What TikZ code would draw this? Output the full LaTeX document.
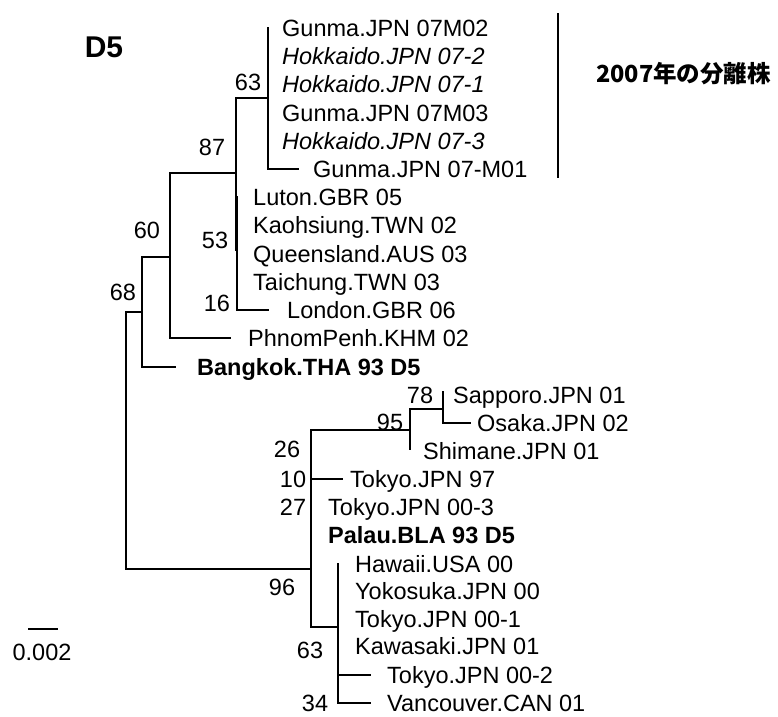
\documentclass[tikz,border=0pt]{standalone}
\usepackage{fontspec}
\setmainfont{Liberation Sans}
\newfontfamily\jpfont{Noto Sans CJK JP}
\begin{document}
\begin{tikzpicture}[x=1pt,y=-1pt,
  lbl/.style={inner sep=0pt, text height=16.8pt, text depth=0pt, font=\fontsize{23.5}{28}\selectfont},
  leaf/.style={lbl, anchor=west},
  bs/.style={lbl, anchor=center},
  branch/.style={line width=1.4pt, line cap=rect},
  zero/.style={line width=2.6pt}]
\useasboundingbox (0,0) rectangle (778,716);

% internal nodes
\coordinate (root) at (126,440);
\coordinate (n68) at (142,312);
\coordinate (n60) at (170,257);
\coordinate (n87) at (236,173);
\coordinate (n63a) at (268,98);
\coordinate (n53) at (237,250);
\coordinate (n96) at (311,569);
\coordinate (n95) at (410,430);
\coordinate (n78) at (443,409);
\coordinate (n63b) at (338,627);
\coordinate (n34) at (338,689);

% branch tips
\coordinate (tA1) at (268,28);
\coordinate (tA6) at (298,169);
\coordinate (tB1) at (237,197);
\coordinate (tB4) at (237,282);
\coordinate (tB5) at (268,310);
\coordinate (tC) at (230,338);
\coordinate (tD) at (175,367);
\coordinate (tE1) at (443,392);
\coordinate (tE2) at (470,423);
\coordinate (tE3) at (410,449);
\coordinate (tF1) at (342,479);
\coordinate (tF3) at (311,536);
\coordinate (tG1) at (338,564);
\coordinate (tG2) at (338,591);
\coordinate (tG4) at (338,646);
\coordinate (tG5) at (370,675);
\coordinate (tG6) at (370,703);
\coordinate (z1) at (311,479);
\coordinate (z2) at (311,544);

% leaf labels
\node[leaf] (A1) at (282,28) {Gunma.JPN 07M02};
\node[leaf] (A2) at (282,56) {\itshape Hokkaido.JPN 07-2};
\node[leaf] (A3) at (282,84) {\itshape Hokkaido.JPN 07-1};
\node[leaf] (A4) at (282,113) {Gunma.JPN 07M03};
\node[leaf] (A5) at (282,141) {\itshape Hokkaido.JPN 07-3};
\node[leaf] (A6) at (313,169) {Gunma.JPN 07-M01};
\node[leaf] (B1) at (253,197) {Luton.GBR 05};
\node[leaf] (B2) at (253,225) {Kaohsiung.TWN 02};
\node[leaf] (B3) at (253,254) {Queensland.AUS 03};
\node[leaf] (B4) at (253,282) {Taichung.TWN 03};
\node[leaf] (B5) at (287,310) {London.GBR 06};
\node[leaf] (C) at (248,338) {PhnomPenh.KHM 02};
\node[leaf] (D) at (197,367) {\bfseries Bangkok.THA 93 D5};
\node[leaf] (E1) at (453,395) {Sapporo.JPN 01};
\node[leaf] (E2) at (477,423) {Osaka.JPN 02};
\node[leaf] (E3) at (423,451) {Shimane.JPN 01};
\node[leaf] (F1) at (350,479) {Tokyo.JPN 97};
\node[leaf] (F2) at (328,507) {Tokyo.JPN 00-3};
\node[leaf] (F3) at (328,535) {\bfseries Palau.BLA 93 D5};
\node[leaf] (G1) at (355,564) {Hawaii.USA 00};
\node[leaf] (G2) at (355,591) {Yokosuka.JPN 00};
\node[leaf] (G3) at (355,619) {Tokyo.JPN 00-1};
\node[leaf] (G4) at (355,646) {Kawasaki.JPN 01};
\node[leaf] (G5) at (387,675) {Tokyo.JPN 00-2};
\node[leaf] (G6) at (387,703) {Vancouver.CAN 01};

% bootstrap values
\node[bs] (b63a) at (248,82) {63};
\node[bs] (b87) at (212,147) {87};
\node[bs] (b60) at (147,230) {60};
\node[bs] (b53) at (215,240) {53};
\node[bs] (b16) at (217,303) {16};
\node[bs] (b68) at (123,292) {68};
\node[bs] (b78) at (420,395) {78};
\node[bs] (b95) at (390,422) {95};
\node[bs] (b26) at (287,449) {26};
\node[bs] (b10) at (293,479) {10};
\node[bs] (b27) at (293,507) {27};
\node[bs] (b96) at (282,587) {96};
\node[bs] (b63b) at (310,650) {63};
\node[bs] (b34) at (315,703) {34};

% branches
\begin{scope}[branch]
\draw (root) |- (n68);
\draw (root) |- (n96);
\draw (n68) |- (n60);
\draw (n68) |- (tD);
\draw (n60) |- (n87);
\draw (n60) |- (tC);
\draw (n87) |- (n63a);
\draw (n87) |- (n53);
\draw (n63a) |- (tA1);
\draw (n63a) |- (tA6);
\draw (n53) |- (tB1);
\draw (n53) |- (tB5);
\draw (n96) |- (n95);
\draw (n96) |- (tF1);
\draw (n96) |- (tF3);
\draw (n96) |- (n63b);
\draw (n95) |- (n78);
\draw (n95) |- (tE3);
\draw (n78) |- (tE1);
\draw (n78) |- (tE2);
\draw (n63b) |- (tG1);
\draw (n63b) |- (n34);
\draw (n34) |- (tG5);
\draw (n34) |- (tG6);
\end{scope}
% overlapping zero-length branches look heavier
\draw[zero] (tB1) -- (tB4);
\draw[zero] (z1) -- (z2);
\draw[zero] (tG2) -- (tG4);

% bracket for 2007 isolates
\coordinate (k1) at (558,13);
\coordinate (k2) at (558,178);
\draw[line width=1.3pt] (k1) -- (k2);
\node[anchor=west, inner sep=0pt, font=\jpfont\bfseries\fontsize{23.5}{26}\selectfont] (jp) at (596,74) {2007年の分離株};

% title
\node[inner sep=0pt, font=\bfseries\fontsize{30}{34}\selectfont] (title) at (104,47) {D5};

% scale bar
\coordinate (s1) at (28,629);
\coordinate (s2) at (58,629);
\draw[line width=1.6pt] (s1) -- (s2);
\node[bs] (scale) at (42,652) {0.002};
\end{tikzpicture}
\end{document}
